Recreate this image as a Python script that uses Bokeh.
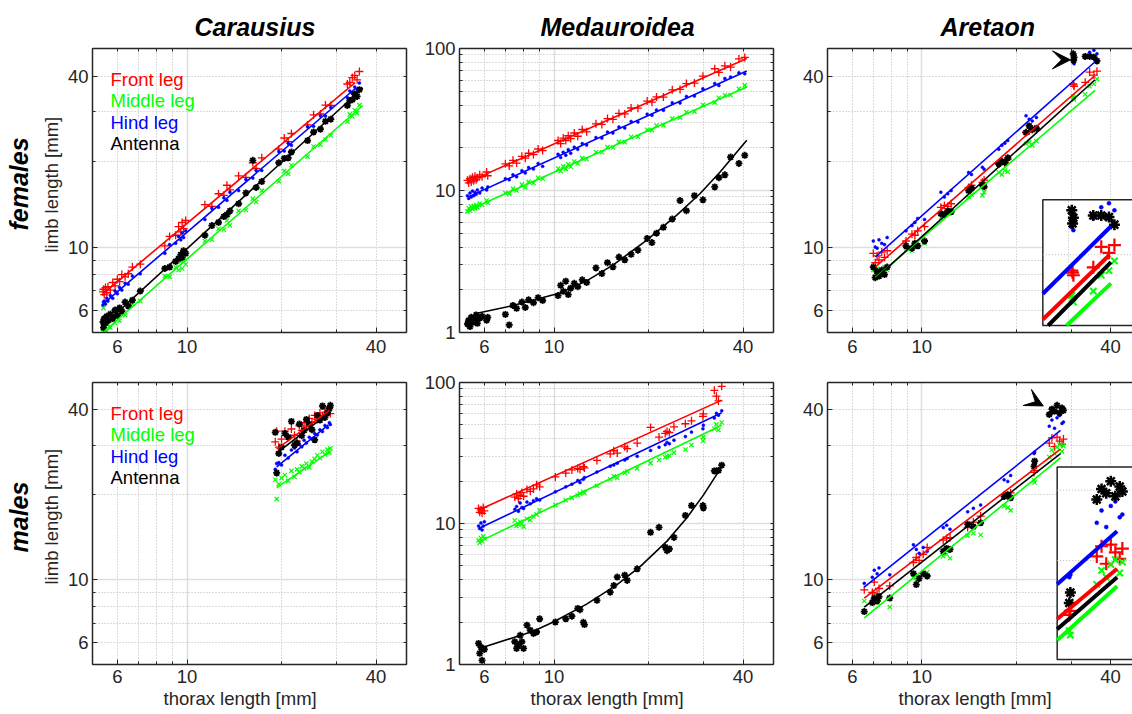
import numpy as np
from bokeh.plotting import figure
from bokeh.layouts import column, row
from bokeh.models import (Range1d, LogScale, LogAxis, FixedTicker, Grid, Label, Title,
                          PrintfTickFormatter, CoordinateMapping, Arrow, VeeHead)
from bokeh.embed import file_html
from bokeh.resources import INLINE

# ============================ DATA ============================
# fits are [x0, y0, x1, y1]
# ---- Carausius, females
car_f_thorax = [5.40, 5.42, 5.45, 5.50, 5.55, 5.60, 5.70, 5.80, 5.90, 6.00, 6.10, 6.20, 6.35, 6.50, 6.70,
                7.10, 8.50, 8.80, 9.20, 9.40, 9.55, 9.65, 9.75, 9.90, 11.4, 12.0, 12.6, 13.1, 13.4, 13.7,
                14.6, 15.4, 16.2, 16.6, 17.3, 19.6, 20.4, 21.0, 21.5, 24.2, 25.3, 26.6, 27.6, 28.7, 32.4,
                33.0, 33.6, 34.2, 34.8, 35.4]
car_f_front = [6.95, 7.10, 6.80, 7.20, 6.90, 7.25, 7.05, 7.50, 7.30, 7.70, 7.55, 8.00, 7.85, 8.05, 8.50,
               8.70, 10.1, 10.9, 11.0, 11.8, 11.3, 12.2, 11.6, 12.4, 14.1, 13.9, 15.4, 15.2, 16.5, 15.9,
               17.8, 17.6, 19.8, 18.9, 20.6, 22.1, 24.2, 23.5, 25.1, 26.9, 29.2, 29.4, 31.6, 31.5, 37.5,
               38.0, 39.5, 40.2, 38.8, 41.5]
car_f_middle = [5.15, 6.10, 5.00, 5.25, 5.05, 5.35, 5.20, 5.50, 5.40, 5.65, 5.50, 5.85, 5.75, 6.15, 6.30,
                6.45, 7.90, 7.85, 8.50, 8.30, 8.90, 8.40, 9.00, 8.70, 10.5, 10.6, 11.6, 11.5, 12.4, 11.9,
                13.4, 13.5, 14.8, 14.4, 15.8, 17.0, 18.5, 18.1, 19.4, 20.8, 22.6, 22.9, 23.9, 24.7, 27.6,
                29.3, 28.8, 30.3, 29.6, 31.6]
car_f_hind = [6.25, 6.40, 6.45, 6.30, 6.60, 6.45, 6.75, 6.60, 7.00, 6.85, 7.20, 7.05, 7.45, 7.40, 7.90,
              8.05, 9.50, 10.2, 10.3, 10.9, 10.6, 11.2, 10.8, 11.4, 12.5, 13.7, 13.8, 14.9, 14.6, 15.6,
              15.8, 17.3, 17.5, 18.6, 18.6, 21.7, 21.8, 23.2, 22.8, 26.5, 26.6, 29.0, 28.9, 31.0, 33.6,
              35.4, 34.8, 36.6, 35.9, 37.8]
car_f_antenna = [5.45, 5.20, 5.60, 5.40, 5.70, 5.50, 5.80, 5.60, 6.00, 5.75, 6.10, 5.95, 6.40, 6.20, 6.50,
                 7.00, 8.40, 8.50, 8.90, 9.10, 9.40, 9.20, 9.70, 9.50, 11.0, 11.9, 12.2, 12.8, 13.0, 13.4,
                 14.2, 15.5, 20.2, 16.2, 17.0, 19.8, 20.5, 20.6, 21.6, 23.7, 25.4, 26.0, 27.7, 28.2, 31.5,
                 32.8, 33.0, 34.6, 33.9, 35.8]
car_f_fit_front = [5.42, 6.87, 34.3, 37.9]
car_f_fit_middle = [5.42, 5.02, 36.3, 31.5]
car_f_fit_hind = [5.42, 6.32, 34.5, 36.3]
car_f_fit_antenna = [5.42, 5.31, 36.3, 36.3]

# ---- Medauroidea, females
med_f_thorax = [5.30, 5.35, 5.40, 5.45, 5.50, 5.55, 5.60, 5.65, 5.70, 5.80, 5.90, 6.10, 6.15, 7.00, 7.20,
                7.40, 7.60, 7.90, 8.10, 8.30, 8.60, 8.90, 9.20, 10.3, 10.5, 10.7, 10.9, 11.1, 11.3, 11.6,
                11.9, 12.3, 12.7, 13.6, 14.2, 14.8, 15.4, 16.1, 16.8, 17.6, 18.5, 19.8, 20.5, 21.2, 22.3,
                23.8, 25.2, 26.4, 28.0, 29.8, 32.5, 33.5, 35.0, 36.5, 38.8, 40.5]
med_f_front = [11.8, 11.3, 12.1, 11.5, 12.4, 11.7, 12.6, 11.9, 12.3, 12.9, 12.5, 13.5, 12.7, 15.4, 14.9,
               16.3, 15.6, 17.4, 16.9, 18.3, 17.9, 19.6, 19.1, 22.5, 21.4, 23.4, 22.5, 24.3, 23.2, 25.4,
               24.1, 26.9, 25.9, 29.5, 29.2, 32.1, 31.7, 34.9, 34.6, 38.1, 38.0, 42.6, 41.9, 45.6, 45.5,
               51.2, 51.5, 56.6, 57.1, 63.8, 72.0, 67.8, 75.5, 74.0, 84.5, 86.5]
med_f_middle = [7.1, 7.5, 7.2, 7.7, 7.4, 7.8, 7.5, 7.9, 7.6, 8.1, 7.9, 8.5, 8.2, 9.6, 9.5,
                10.3, 10.0, 11.0, 10.5, 11.5, 11.3, 12.3, 12.1, 14.3, 13.7, 14.8, 14.2, 15.3, 14.7, 16.0,
                15.5, 16.9, 16.6, 18.6, 18.6, 20.2, 20.1, 22.0, 21.9, 23.9, 23.9, 26.8, 26.6, 28.7, 28.8,
                32.1, 32.6, 35.6, 35.9, 40.1, 41.6, 45.0, 46.9, 47.0, 52.0, 55.0]
med_f_hind = [9.2, 8.8, 9.6, 9.0, 9.9, 9.2, 9.7, 9.4, 10.1, 9.6, 10.4, 10.1, 10.6, 12.1, 11.9,
              12.9, 12.5, 13.8, 13.3, 14.5, 14.2, 15.5, 14.8, 18.0, 17.1, 18.6, 17.7, 19.4, 18.3, 20.2,
              19.5, 21.4, 20.9, 23.6, 23.4, 25.8, 25.4, 28.0, 27.6, 30.6, 30.4, 34.5, 33.9, 36.9, 36.7,
              41.5, 41.4, 46.0, 46.3, 52.0, 56.8, 54.9, 61.5, 63.0, 67.5, 66.5]
med_f_antenna = [1.15, 1.22, 1.10, 1.28, 1.18, 1.25, 1.20, 1.33, 1.16, 1.26, 1.30, 1.22, 1.28, 1.34, 1.13,
                 1.55, 1.48, 1.64, 1.50, 1.70, 1.62, 1.76, 1.68, 1.82, 2.15, 1.95, 2.30, 1.85, 2.05, 2.22,
                 2.10, 2.35, 2.25, 2.85, 2.60, 3.10, 2.90, 3.40, 3.25, 3.55, 3.80, 4.60, 4.30, 5.00, 5.50,
                 6.30, 8.50, 7.20, 9.20, 8.60, 10.6, 12.3, 12.9, 17.2, 15.5, 17.7]
med_f_fit_front = [5.33, 11.5, 41.1, 85.1]
med_f_fit_middle = [5.33, 7.27, 41.1, 53.6]
med_f_fit_hind = [5.33, 9.02, 41.1, 69.5]
med_f_curve_x = [5.64, 7.24, 10.45, 12.7, 15.4, 19.7, 24.6, 29.2, 33.8, 41.1]
med_f_curve_y = [1.36, 1.53, 1.90, 2.31, 2.98, 4.45, 6.70, 9.52, 13.5, 22.6]

# ---- Aretaon, females
are_f_thorax = [7.0, 7.1, 7.2, 7.3, 7.45, 7.6, 7.75, 8.9, 9.3, 9.5, 9.7, 10.2, 11.5, 11.8, 12.1, 12.4,
                14.1, 14.4, 15.6, 15.8, 17.6, 18.0, 18.4, 18.8, 21.5, 22.0, 22.5, 23.2,
                30.4, 30.5, 30.6, 33.2, 34.3, 35.4, 36.2]
are_f_front = [9.5, 8.8, 9.3, 9.0, 9.6, 9.2, 9.7, 10.5, 11.1, 11.0, 11.4, 11.8, 13.8, 14.0, 13.9, 14.2,
               16.2, 16.5, 16.9, 17.2, 19.6, 20.1, 19.8, 20.4, 25.3, 25.6, 26.0, 25.8,
               37.5, 37.2, 36.8, 38.0, 41.3, 40.3, 41.6]
are_f_middle = [8.3, 8.1, 8.4, 8.0, 8.2, 8.5, 8.3, 9.9, 9.7, 10.1, 10.0, 10.3, 12.7, 12.9, 13.1, 13.3,
                15.0, 15.3, 15.2, 15.6, 18.3, 18.0, 18.6, 18.4, 23.1, 23.4, 22.8, 23.6,
                33.9, 33.5, 33.0, 34.5, 36.8, 37.5, 39.0]
are_f_hind = [10.5, 10.0, 9.9, 10.6, 10.3, 10.2, 10.8, 11.4, 11.9, 12.2, 12.6, 12.5, 15.6, 15.0, 15.4, 15.8,
              18.3, 18.0, 19.1, 18.8, 22.1, 22.8, 23.2, 23.7, 29.0, 28.2, 27.8, 28.6,
              44.7, 45.5, 44.2, 46.4, 48.5, 49.3, 47.9]
are_f_antenna = [8.5, 7.8, 8.2, 7.9, 8.3, 8.0, 8.5, 10.1, 9.9, 10.3, 10.1, 10.5, 13.1, 13.0, 13.4, 13.3,
                 15.8, 16.1, 16.5, 16.3, 19.6, 20.0, 19.8, 20.6, 25.3, 26.7, 25.9, 26.2,
                 47.9, 45.4, 46.5, 46.9, 46.9, 46.6, 45.2]
are_f_fit_front = [7.11, 8.51, 35.5, 40.0]
are_f_fit_middle = [7.11, 7.80, 35.7, 35.6]
are_f_fit_hind = [7.11, 9.22, 35.7, 44.9]
are_f_fit_antenna = [7.11, 7.74, 35.7, 38.8]
are_f_arrow = [24.2, 45.6, 29.8, 45.6]

# ---- Carausius, males
car_m_thorax = [19.1, 19.3, 19.6, 20.0, 20.5, 21.0, 21.5, 22.0, 22.4, 22.8, 23.2, 23.6, 24.0, 24.5,
                25.0, 25.5, 26.0, 26.5, 27.0, 27.5, 28.0, 28.4, 28.6]
car_m_front = [30.8, 33.6, 29.5, 31.5, 33.6, 32.0, 34.2, 32.5, 31.0, 35.2, 33.8, 36.0, 35.0, 37.3,
               36.1, 38.2, 37.0, 39.0, 38.2, 40.2, 39.5, 40.8, 38.8]
car_m_middle = [22.6, 19.3, 21.8, 22.9, 23.5, 22.4, 24.3, 23.1, 24.6, 24.0, 25.2, 24.8, 25.8, 25.0,
                26.2, 26.8, 27.6, 27.0, 28.4, 27.8, 28.9, 28.2, 29.2]
car_m_hind = [24.6, 25.8, 26.0, 25.5, 27.6, 27.0, 28.8, 29.3, 28.4, 30.1, 29.6, 31.2, 30.5, 32.0,
              31.6, 33.0, 32.6, 34.0, 33.5, 35.2, 34.6, 36.0, 35.5]
car_m_antenna = [33.3, 23.9, 28.0, 29.5, 33.0, 32.0, 36.4, 30.0, 30.5, 35.6, 32.4, 33.8, 37.0, 35.6,
                 34.0, 31.3, 38.2, 36.8, 41.3, 37.6, 39.0, 40.5, 41.5]
car_m_fit_front = [19.3, 29.0, 28.4, 39.8]
car_m_fit_middle = [19.3, 21.2, 28.6, 28.5]
car_m_fit_hind = [19.3, 25.1, 28.2, 35.4]
car_m_fit_antenna = [19.3, 28.1, 28.2, 38.9]

# ---- Medauroidea, males
med_m_thorax = [5.75, 5.80, 5.85, 5.90, 5.95, 6.00, 7.50, 7.60, 7.70, 7.80, 7.90, 8.00, 8.20, 8.40, 8.60,
                8.80, 9.00, 10.1, 10.9, 11.4, 11.9, 12.1, 12.4, 12.5, 13.7, 15.1, 15.5, 15.9, 16.8, 17.1,
                18.4, 20.3, 21.6, 22.6, 22.9, 23.3, 24.1, 26.2, 27.4, 29.8, 29.9, 32.4, 32.9, 33.4, 34.2]
med_m_front = [12.8, 12.0, 12.5, 11.8, 13.0, 12.3, 15.4, 16.2, 15.0, 15.8, 16.6, 15.6, 17.4, 16.9, 17.6,
               18.8, 18.2, 21.4, 22.8, 24.0, 24.6, 24.2, 25.3, 24.8, 28.0, 31.2, 32.8, 31.6, 35.0, 34.0,
               37.2, 48.0, 41.0, 43.5, 45.0, 44.2, 48.5, 51.0, 53.5, 57.5, 60.0, 88.0, 80.0, 74.0, 94.0]
med_m_middle = [7.6, 7.3, 7.9, 7.5, 8.1, 7.8, 10.5, 9.6, 9.8, 10.3, 10.0, 9.5, 10.8, 10.6, 11.2,
                11.6, 12.4, 13.5, 14.6, 15.2, 15.8, 16.3, 16.8, 16.4, 18.5, 20.6, 21.6, 21.0, 22.8, 23.5,
                24.6, 26.8, 28.2, 29.5, 30.0, 30.2, 31.8, 33.5, 36.0, 38.5, 41.0, 47.0, 50.5, 46.0, 52.0]
med_m_hind = [9.6, 9.2, 10.1, 9.0, 9.6, 10.3, 12.6, 13.2, 12.2, 14.0, 13.0, 12.8, 14.2, 13.8, 14.5,
              15.0, 14.7, 16.8, 18.2, 19.0, 20.2, 19.5, 20.6, 21.2, 23.2, 25.5, 26.0, 26.8, 28.2, 28.9,
              30.0, 33.0, 34.8, 36.2, 37.6, 36.8, 39.0, 41.4, 44.5, 47.0, 49.8, 56.0, 60.5, 58.5, 63.0]
med_m_antenna = [1.41, 1.20, 1.33, 1.07, 1.30, 1.28, 1.45, 1.30, 1.37, 1.61, 1.45, 1.30, 1.90, 1.75, 1.66,
                 1.70, 2.11, 2.00, 2.11, 2.20, 2.50, 2.45, 1.99, 1.92, 2.85, 3.26, 3.63, 4.17, 4.30, 3.95,
                 4.77, 8.66, 9.40, 6.79, 6.42, 6.60, 7.97, 11.4, 13.4, 13.4, 12.9, 23.6, 23.6, 23.8, 25.9]
med_m_fit_front = [5.78, 12.5, 34.2, 75.0]
med_m_fit_middle = [5.78, 7.44, 34.2, 49.7]
med_m_fit_hind = [5.78, 9.25, 34.2, 61.1]
med_m_curve_x = [5.78, 8.59, 9.95, 12.7, 15.8, 18.8, 22.9, 26.5, 29.9, 33.8]
med_m_curve_y = [1.30, 1.72, 2.00, 2.68, 3.66, 4.95, 7.50, 11.0, 15.9, 24.3]

# ---- Aretaon, males
are_m_thorax = [6.55, 6.95, 7.05, 7.20, 7.30, 7.90, 9.40, 9.60, 9.80, 10.1, 10.4, 11.7, 12.0, 12.3,
                14.0, 14.6, 15.4, 18.3, 18.8, 19.2, 22.8, 22.9, 25.5, 26.0, 26.5, 27.0, 27.5, 28.0, 28.3]
are_m_front = [9.2, 9.0, 9.8, 8.9, 9.3, 9.5, 11.5, 12.0, 11.7, 12.3, 13.0, 13.8, 14.0, 14.1,
               15.3, 16.0, 16.8, 20.0, 19.7, 20.3, 24.0, 24.4, 30.5, 31.8, 29.6, 32.0, 31.0, 30.2, 31.5]
are_m_middle = [8.4, 8.2, 8.6, 8.3, 8.5, 8.0, 10.2, 9.9, 10.0, 10.4, 10.6, 12.1, 12.3, 11.9,
                14.3, 14.6, 14.4, 18.2, 18.0, 17.6, 22.5, 22.1, 27.2, 28.8, 28.0, 29.5, 30.1, 28.5, 29.8]
are_m_hind = [9.7, 10.2, 10.8, 10.5, 11.0, 10.4, 13.3, 12.8, 12.4, 13.0, 12.6, 15.3, 15.6, 15.1,
              17.4, 17.9, 18.4, 22.6, 22.3, 23.4, 28.0, 28.3, 35.0, 36.8, 34.4, 37.5, 38.2, 35.8, 36.2]
are_m_antenna = [7.7, 8.3, 8.6, 8.4, 8.7, 8.6, 10.5, 9.6, 10.1, 10.5, 10.3, 12.6, 12.9, 12.8,
                 15.7, 15.4, 15.9, 19.7, 20.0, 19.5, 25.2, 26.3, 38.5, 40.2, 39.5, 41.5, 39.0, 40.6, 39.8]
are_m_fit_front = [6.55, 8.59, 27.7, 29.0]
are_m_fit_middle = [6.55, 7.31, 27.7, 27.0]
are_m_fit_hind = [6.55, 9.40, 27.7, 33.8]
are_m_fit_antenna = [6.55, 7.99, 27.7, 28.0]
are_m_arrow = [18.2, 49.0, 24.4, 41.3]

# axis ticks
x_ticks = [6, 10, 40]
x_minor = [5, 6, 7, 8, 9, 20, 30, 40, 50]
y_ticks_small = [6, 10, 40]
y_ticks_big = [1, 10, 100]
y_minor_big = [1, 2, 3, 4, 5, 6, 7, 8, 9, 10, 20, 30, 40, 50, 60, 70, 80, 90, 100]
legend_names = ["Front leg", "Middle leg", "Hind leg", "Antenna"]
species = ["Carausius", "Medauroidea", "Aretaon"]
sexes = ["females", "males"]
x_label = "thorax length [mm]"
y_label = "limb length [mm]"

# ============================ STYLE ============================
FONT = "Liberation Sans"
AXC = "#262626"
ORDER = ["front", "middle", "hind", "antenna"]
COLORS = {"front": "#ff0000", "middle": "#00ff00", "hind": "#0000ff", "antenna": "#000000"}
MAIN = {"front": ("cross", 8, 1.3), "middle": ("x", 6, 1.2),
        "hind": ("circle", 3, 0.5), "antenna": ("asterisk", 7, 1.8)}
INSET = {"front": ("cross", 13, 2.2), "middle": ("x", 9, 2.0),
         "hind": ("circle", 4, 0.5), "antenna": ("asterisk", 11, 2.5)}
GRID_MINOR_X = [6, 7, 8, 9, 20, 30, 40]
GRID_MINOR_Y_BIG = [2, 3, 4, 5, 6, 7, 8, 9, 20, 30, 40, 50, 60, 70, 80, 90]


def make_panel(xr, yr, yticks, yminor, ygrid_minor, fw, fh, ml, mr, mt, mb, xstand, full_box=True):
    p = figure(frame_width=fw, frame_height=fh, x_range=Range1d(0, 1), y_range=Range1d(0, 1),
               x_axis_type=None, y_axis_type=None, title_location=None,
               toolbar_location=None, output_backend="svg",
               min_border_left=ml, min_border_right=mr, min_border_top=mt, min_border_bottom=mb)
    p.outline_line_color = None
    p.extra_x_ranges = {"L": Range1d(*xr)}
    p.extra_y_ranges = {"L": Range1d(*yr)}
    p.extra_x_scales = {"L": LogScale()}
    p.extra_y_scales = {"L": LogScale()}
    for dim, minor in ((0, GRID_MINOR_X), (1, ygrid_minor)):
        p.add_layout(Grid(dimension=dim, ticker=FixedTicker(ticks=[10], minor_ticks=minor),
                          x_range_name="L", y_range_name="L",
                          grid_line_color="#dedede", grid_line_width=1.5,
                          minor_grid_line_color="#b8b8b8", minor_grid_line_width=1,
                          minor_grid_line_dash="1 2"))

    def add_axis(side, ticks, minor, labels, standoff):
        a = LogAxis(x_range_name="L", y_range_name="L",
                    ticker=FixedTicker(ticks=ticks if labels else [], minor_ticks=minor),
                    formatter=PrintfTickFormatter(format="%d"),
                    axis_line_color=AXC, axis_line_width=1.5,
                    major_tick_line_color=AXC, minor_tick_line_color=AXC,
                    major_tick_in=5, major_tick_out=0, minor_tick_in=3, minor_tick_out=0,
                    major_label_standoff=standoff, major_label_text_font=FONT,
                    major_label_text_font_size="18.5px",
                    major_label_text_color=AXC)
        p.add_layout(a, side)

    add_axis("left", yticks, yminor, True, 4)
    add_axis("below", x_ticks, x_minor, True, xstand)
    add_axis("above", x_ticks, x_minor, False, 0)
    if full_box:
        add_axis("right", yticks, yminor, False, 0)
    return p


def add_title(p, s, side, offset, standoff, size="18.5px", style="normal", color=AXC):
    p.add_layout(Title(text=s, align="left", offset=offset, standoff=standoff,
                       vertical_align="bottom", text_font=FONT, text_font_size=size,
                       text_font_style=style, text_color=color), side)


def add_text(p, s, x, y, dx, dy, size="18.5px", style="normal", color=AXC):
    p.add_layout(Label(x=x, y=y, x_offset=dx, y_offset=dy, text=s, text_font=FONT,
                       text_font_size=size, text_font_style=style, text_color=color,
                       text_align="left", text_baseline="alphabetic"))


def draw_data(p, thorax, series, fits, curve=None):
    for k in ORDER:
        m, s, lw = MAIN[k]
        p.scatter(thorax, series[k], marker=m, size=s, line_width=lw, line_color=COLORS[k],
                  fill_color=COLORS[k], x_range_name="L", y_range_name="L")
    for k in ORDER:
        if k in fits:
            x0, y0, x1, y1 = fits[k]
            p.line([x0, x1], [y0, y1], line_color=COLORS[k], line_width=1.6,
                   x_range_name="L", y_range_name="L")
    if curve is not None:
        p.line(curve[0], curve[1], line_color=COLORS["antenna"], line_width=1.6,
               x_range_name="L", y_range_name="L")


def clip_log_segment(seg, xr, yr):
    x0, y0, x1, y1 = np.log10(np.asarray(seg, float))
    lx = np.log10(xr)
    ly = np.log10(yr)
    dx, dy = x1 - x0, y1 - y0
    t0, t1 = 0.0, 1.0
    for pk, qk in ((-dx, x0 - lx[0]), (dx, lx[1] - x0), (-dy, y0 - ly[0]), (dy, ly[1] - y0)):
        if pk == 0:
            if qk < 0:
                return None
            continue
        t = qk / pk
        if pk < 0:
            t0 = max(t0, t)
        else:
            t1 = min(t1, t)
    if t0 >= t1:
        return None
    return ([10 ** (x0 + t0 * dx), 10 ** (x0 + t1 * dx)],
            [10 ** (y0 + t0 * dy), 10 ** (y0 + t1 * dy)])


def draw_inset(p, xsrc, ysrc, xtgt, ytgt, thorax, series, fits, grid_x, grid_y):
    cm = CoordinateMapping(x_source=Range1d(*xsrc), y_source=Range1d(*ysrc),
                           x_scale=LogScale(), y_scale=LogScale(),
                           x_target=Range1d(*xtgt), y_target=Range1d(*ytgt))
    p.quad(left=[xtgt[0]], right=[xtgt[1]], bottom=[ytgt[0]], top=[ytgt[1]],
           fill_color="white", line_color=AXC, line_width=1.5)
    for gx in grid_x:
        r = p.line([gx, gx], list(ysrc), line_color="#b8b8b8", line_width=1, line_dash="1 2")
        r.coordinates = cm
    for gy in grid_y:
        r = p.line(list(xsrc), [gy, gy], line_color="#b8b8b8", line_width=1, line_dash="1 2")
        r.coordinates = cm
    t = np.asarray(thorax, float)
    for k in ORDER:
        v = np.asarray(series[k], float)
        msk = (t > xsrc[0]) & (t < xsrc[1]) & (v > ysrc[0]) & (v < ysrc[1])
        m, s, lw = INSET[k]
        r = p.scatter(t[msk], v[msk], marker=m, size=s, line_width=lw,
                      line_color=COLORS[k], fill_color=COLORS[k])
        r.coordinates = cm
    for k in ORDER:
        seg = clip_log_segment(fits[k], xsrc, ysrc)
        if seg is not None:
            r = p.line(seg[0], seg[1], line_color=COLORS[k], line_width=4)
            r.coordinates = cm


def add_arrow(p, a):
    p.add_layout(Arrow(end=VeeHead(size=18, fill_color="black", line_color="black", line_width=1),
                       x_start=a[0], y_start=a[1], x_end=a[2], y_end=a[3],
                       line_alpha=0, line_width=0, x_range_name="L", y_range_name="L"))


def add_legend(p):
    for name, k, dy in zip(legend_names, ORDER, [-30.7, -51.8, -74.0, -95.3]):
        add_text(p, name, 0, 1, 18, dy, color=COLORS[k])


# ============================ LAYOUT ============================
FW12, FW3 = 314, 305
FH1, FH2 = 284, 282
XR12, XR3 = (5, 50), (5, 47)
YR_SMALL, YR_BIG = (5, 50), (1, 100)
Y_MINOR_SMALL = x_minor

# row 1 (females): top border 48, bottom 34 -> 366 px
p1 = make_panel(XR12, YR_SMALL, y_ticks_small, Y_MINOR_SMALL, GRID_MINOR_X, FW12, FH1, 92, 9, 48, 34, 7)
p2 = make_panel(XR12, YR_BIG, y_ticks_big, y_minor_big, GRID_MINOR_Y_BIG, FW12, FH1, 44, 9, 48, 34, 7)
p3 = make_panel(XR3, YR_SMALL, y_ticks_small, Y_MINOR_SMALL, GRID_MINOR_X, FW3, FH1, 45, 0, 48, 34, 7,
                full_box=False)
# row 2 (males): top border 16, bottom 50 -> 348 px
p4 = make_panel(XR12, YR_SMALL, y_ticks_small, Y_MINOR_SMALL, GRID_MINOR_X, FW12, FH2, 92, 9, 16, 50, 5)
p5 = make_panel(XR12, YR_BIG, y_ticks_big, y_minor_big, GRID_MINOR_Y_BIG, FW12, FH2, 44, 9, 16, 50, 5)
p6 = make_panel(XR3, YR_SMALL, y_ticks_small, Y_MINOR_SMALL, GRID_MINOR_X, FW3, FH2, 45, 0, 16, 50, 5,
                full_box=False)

draw_data(p1, car_f_thorax,
          {"front": car_f_front, "middle": car_f_middle, "hind": car_f_hind, "antenna": car_f_antenna},
          {"front": car_f_fit_front, "middle": car_f_fit_middle, "hind": car_f_fit_hind,
           "antenna": car_f_fit_antenna})
draw_data(p2, med_f_thorax,
          {"front": med_f_front, "middle": med_f_middle, "hind": med_f_hind, "antenna": med_f_antenna},
          {"front": med_f_fit_front, "middle": med_f_fit_middle, "hind": med_f_fit_hind},
          curve=(med_f_curve_x, med_f_curve_y))
are_f_series = {"front": are_f_front, "middle": are_f_middle, "hind": are_f_hind, "antenna": are_f_antenna}
are_f_fits = {"front": are_f_fit_front, "middle": are_f_fit_middle, "hind": are_f_fit_hind,
              "antenna": are_f_fit_antenna}
draw_data(p3, are_f_thorax, are_f_series, are_f_fits)
draw_inset(p3, (27, 40), (30, 50), (0.706, 1.0206), (0.0246, 0.4673),
           are_f_thorax, are_f_series, are_f_fits, grid_x=[30], grid_y=[40])
add_arrow(p3, are_f_arrow)

draw_data(p4, car_m_thorax,
          {"front": car_m_front, "middle": car_m_middle, "hind": car_m_hind, "antenna": car_m_antenna},
          {"front": car_m_fit_front, "middle": car_m_fit_middle, "hind": car_m_fit_hind,
           "antenna": car_m_fit_antenna})
draw_data(p5, med_m_thorax,
          {"front": med_m_front, "middle": med_m_middle, "hind": med_m_hind, "antenna": med_m_antenna},
          {"front": med_m_fit_front, "middle": med_m_fit_middle, "hind": med_m_fit_hind},
          curve=(med_m_curve_x, med_m_curve_y))
are_m_series = {"front": are_m_front, "middle": are_m_middle, "hind": are_m_hind, "antenna": are_m_antenna}
are_m_fits = {"front": are_m_fit_front, "middle": are_m_fit_middle, "hind": are_m_fit_hind,
              "antenna": are_m_fit_antenna}
draw_data(p6, are_m_thorax, are_m_series, are_m_fits)
draw_inset(p6, (21.7, 30.5), (20, 44), (0.753, 1.027), (0.0177, 0.7007),
           are_m_thorax, are_m_series, are_m_fits, grid_x=[30], grid_y=[30, 40])
add_arrow(p6, are_m_arrow)

# outer texts as side-panel titles (stacked outward after the axes)
for p, name, off in zip((p1, p2, p3), species, (102, 81, 113)):
    add_title(p, name, "above", off, 15, "25px", "bold italic", "#000000")
add_title(p1, y_label, "left", 80, 6)
add_title(p1, sexes[0], "left", 102, 5, "25px", "bold italic", "#000000")
add_title(p4, y_label, "left", 80, 6)
add_title(p4, sexes[1], "left", 112, 5, "25px", "bold italic", "#000000")
for p in (p4, p5, p6):
    add_title(p, x_label, "below", 71, 0)
for p in (p1, p4):
    add_legend(p)

layout = column(row(p1, p2, p3), row(p4, p5, p6))
open("out.html", "w").write(file_html(layout, INLINE, "Limb length vs thorax length"))
